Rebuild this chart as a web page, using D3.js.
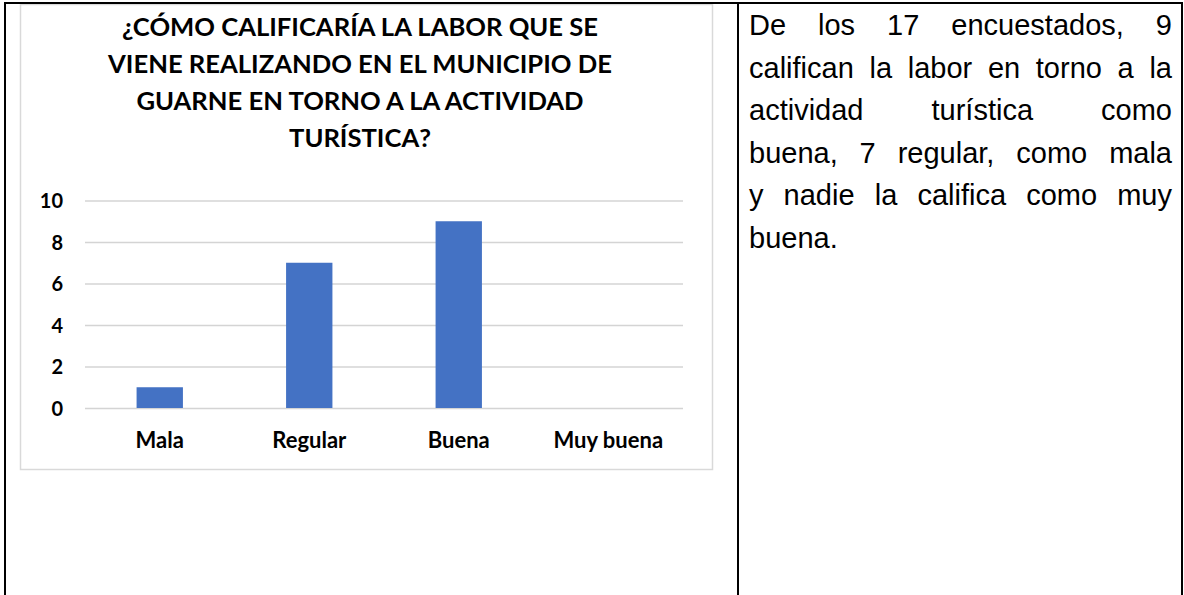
<!DOCTYPE html>
<html>
<head>
<meta charset="utf-8">
<script src="https://cdn.jsdelivr.net/npm/d3@7"></script>
<style>
  html, body { margin: 0; padding: 0; background: #ffffff; }
  svg { display: block; }
</style>
</head>
<body>
<svg id="chart" width="1184" height="595"></svg>
<script>
// ---- data ----
const categories = ["Mala", "Regular", "Buena", "Muy buena"];
const values = [1, 7, 9, 0];
const yTicks = [0, 2, 4, 6, 8, 10];
const titleLines = [
  "¿CÓMO CALIFICARÍA LA LABOR QUE SE",
  "VIENE REALIZANDO EN EL MUNICIPIO DE",
  "GUARNE EN TORNO A LA ACTIVIDAD",
  "TURÍSTICA?"
];
const paragraphLines = [
  "De los 17 encuestados, 9",
  "califican la labor en torno a la",
  "actividad turística como",
  "buena, 7 regular, como mala",
  "y nadie la califica como muy",
  "buena."
];

const svg = d3.select("#chart");
const W = 1184, H = 595;
svg.append("rect").attr("width", W).attr("height", H).attr("fill", "#fff");

// chart box
svg.append("rect")
  .attr("x", 20.5).attr("y", 4.5).attr("width", 692).attr("height", 465)
  .attr("fill", "#fff").attr("stroke", "#d9d9d9").attr("stroke-width", 1.5);

// table borders
const border = svg.append("g").attr("stroke", "#000").attr("stroke-width", 2);
border.append("line").attr("x1", 4).attr("x2", 1183).attr("y1", 3).attr("y2", 3);
border.append("line").attr("x1", 5).attr("x2", 5).attr("y1", 2).attr("y2", H);
border.append("line").attr("x1", 738).attr("x2", 738).attr("y1", 2).attr("y2", H);
border.append("line").attr("x1", 1182).attr("x2", 1182).attr("y1", 2).attr("y2", H);

// scales
const plotLeft = 85, plotRight = 683, plotTop = 200.5, plotBottom = 408;
const x = d3.scaleBand().domain(categories).range([plotLeft, plotRight]).paddingInner(0.69).paddingOuter(0.345);
const y = d3.scaleLinear().domain([0, 10]).range([plotBottom, plotTop]);

// gridlines via axis
const grid = svg.append("g")
  .attr("transform", `translate(${plotLeft},0)`)
  .call(d3.axisLeft(y).tickValues(yTicks).tickSize(-(plotRight - plotLeft)).tickFormat(""));
grid.select(".domain").remove();
grid.selectAll("line").attr("stroke", "#d4d4d4").attr("stroke-width", 1.6);

// y tick labels
const yAxis = svg.append("g")
  .attr("transform", `translate(63,0)`)
  .call(d3.axisLeft(y).tickValues(yTicks).tickSize(0).tickPadding(0));
yAxis.select(".domain").remove();
yAxis.selectAll("text")
  .attr("font-family", "Lato, 'Open Sans', sans-serif")
  .attr("font-weight", "bold").attr("font-size", 20).attr("fill", "#000")
  .attr("dy", "0.35em");

// bars
svg.append("g").selectAll("rect").data(categories).join("rect")
  .attr("x", d => x(d))
  .attr("width", x.bandwidth())
  .attr("y", (d, i) => y(values[i]))
  .attr("height", (d, i) => plotBottom - y(values[i]))
  .attr("fill", "#4472c4");

// x labels
const xAxis = svg.append("g")
  .attr("transform", `translate(0,${plotBottom})`)
  .call(d3.axisBottom(x).tickSize(0).tickPadding(0));
xAxis.select(".domain").remove();
xAxis.selectAll("text")
  .attr("font-family", "Lato, 'Open Sans', sans-serif")
  .attr("font-weight", "bold").attr("font-size", 22).attr("fill", "#000")
  .attr("dy", null).attr("y", 40);

// title
const titleG = svg.append("g")
  .attr("font-family", "Lato, 'Open Sans', sans-serif")
  .attr("font-weight", "bold").attr("text-anchor", "middle").attr("fill", "#000");
const titleBaselines = [36, 73, 110, 147];
titleG.selectAll("text").data(titleLines).join("text")
  .attr("x", 360).attr("y", (d, i) => titleBaselines[i])
  .attr("font-size", 20)
  .text(d => d);
// fit title width to reference line 2 width (~504px)
const w2 = titleG.selectAll("text").nodes()[1].getComputedTextLength();
titleG.selectAll("text").attr("font-size", 20 * 504 / w2);

// paragraph (justified)
const pLeft = 749, pRight = 1172, pFont = 29;
const pBaselines = [35, 77.5, 120, 162.5, 205, 247.5];
const pg = svg.append("g")
  .attr("font-family", "'Liberation Sans', Arial, sans-serif")
  .attr("font-size", pFont).attr("fill", "#000");
paragraphLines.forEach((line, li) => {
  const words = line.split(" ");
  const isLast = li === paragraphLines.length - 1;
  const nodes = words.map(w => pg.append("text").attr("y", pBaselines[li]).text(w));
  const widths = nodes.map(n => n.node().getComputedTextLength());
  const total = d3.sum(widths);
  const spaceW = isLast || words.length < 2 ? pFont * 0.278 : (pRight - pLeft - total) / (words.length - 1);
  let cx = pLeft;
  nodes.forEach((n, i) => { n.attr("x", cx); cx += widths[i] + spaceW; });
});
</script>
</body>
</html>
